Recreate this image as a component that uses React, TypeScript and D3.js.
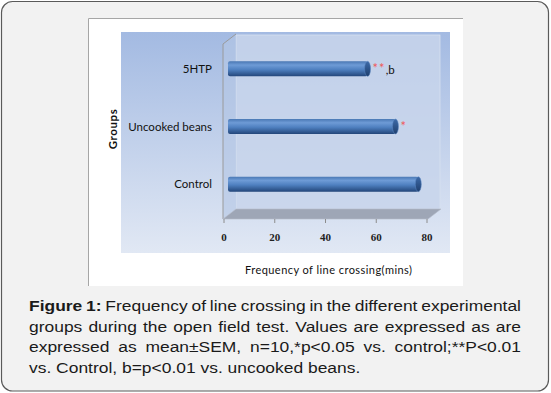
import React, { useEffect, useRef } from "react";
import * as d3 from "d3";

const groups = ["5HTP", "Uncooked beans", "Control"];
const crossings = [55, 66, 75];
const starMarks = ["**", "*", ""];
const letterMarks = [",b", "", ""];
const xTicks = [0, 20, 40, 60, 80];

const captionLines = [
  "groups during the open field test. Values are expressed as are",
  "expressed as mean±SEM, n=10,*p<0.05 vs. control;**P<0.01",
  "vs. Control, b=p<0.01 vs. uncooked beans.",
];

const App = () => {
  const svgRef = useRef<SVGSVGElement>(null);

  useEffect(() => {
    const svg = d3.select(svgRef.current);
    svg.selectAll("*").remove();

    // 3D box geometry
    const depth = { dx: 13, dy: -10 };
    const front = { left: 223, right: 428, top: 44, bottom: 219 };
    const barShift = { dx: 4, dy: -3 };

    const x = d3.scaleLinear().domain([0, 80]).range([224, 427]);
    const y = d3
      .scaleBand()
      .domain(groups)
      .range([43, 216])
      .paddingInner(0.74)
      .paddingOuter(0.37);

    const defs = svg.append("defs");
    const bg = defs
      .append("linearGradient")
      .attr("id", "plotBg")
      .attr("x1", 0)
      .attr("y1", 0)
      .attr("x2", 0)
      .attr("y2", 1);
    bg.append("stop").attr("offset", "0%").attr("stop-color", "#a3bae2");
    bg.append("stop").attr("offset", "100%").attr("stop-color", "#e1e8f4");

    const barGrad = defs
      .append("linearGradient")
      .attr("id", "barGrad")
      .attr("x1", 0)
      .attr("y1", 0)
      .attr("x2", 0)
      .attr("y2", 1);
    barGrad.append("stop").attr("offset", "0%").attr("stop-color", "#4a78b4");
    barGrad.append("stop").attr("offset", "25%").attr("stop-color", "#6e9bd6");
    barGrad.append("stop").attr("offset", "55%").attr("stop-color", "#4f80c0");
    barGrad.append("stop").attr("offset", "100%").attr("stop-color", "#23467a");

    const capGrad = defs
      .append("linearGradient")
      .attr("id", "capGrad")
      .attr("x1", 0)
      .attr("y1", 0)
      .attr("x2", 0)
      .attr("y2", 1);
    capGrad.append("stop").attr("offset", "0%").attr("stop-color", "#3d6aa8");
    capGrad.append("stop").attr("offset", "100%").attr("stop-color", "#1f3f6e");

    // outer card
    svg
      .append("rect")
      .attr("x", 1.5)
      .attr("y", 1.5)
      .attr("width", 547)
      .attr("height", 389.5)
      .attr("rx", 11)
      .attr("fill", "#f2f2f2")
      .attr("stroke", "#5a5a5a")
      .attr("stroke-width", 1.2);

    // white chart panel
    svg
      .append("rect")
      .attr("x", 88)
      .attr("y", 18)
      .attr("width", 375)
      .attr("height", 268)
      .attr("fill", "#fff");
    svg
      .append("path")
      .attr("d", "M88.5,286 V18.5 H463")
      .attr("fill", "none")
      .attr("stroke", "#a6a6a6");

    // plot area
    svg
      .append("rect")
      .attr("x", 121)
      .attr("y", 32)
      .attr("width", 329)
      .attr("height", 221)
      .attr("fill", "url(#plotBg)");

    // back wall
    svg
      .append("rect")
      .attr("x", front.left + depth.dx)
      .attr("y", front.top + depth.dy + 1)
      .attr("width", front.right - front.left - 1)
      .attr("height", front.bottom - front.top)
      .attr("fill", "#c8d5eb")
      .attr("fill-opacity", 0.85)
      .attr("stroke", "#d8e1f0")
      .attr("stroke-width", 0.8);

    // left wall
    const bx = front.left + depth.dx;
    svg
      .append("path")
      .attr(
        "d",
        `M${front.left},${front.top} L${bx},${front.top + depth.dy} L${bx},${front.bottom + depth.dy} L${front.left},${front.bottom} Z`
      )
      .attr("fill", "#b4c6e5")
      .attr("fill-opacity", 0.6)
      .attr("stroke", "none");
    svg
      .append("path")
      .attr(
        "d",
        `M${bx},${front.top + depth.dy} L${front.left},${front.top} L${front.left},${front.bottom}`
      )
      .attr("fill", "none")
      .attr("stroke", "#9a9a9a")
      .attr("stroke-width", 1);

    // floor
    svg
      .append("path")
      .attr(
        "d",
        `M${front.left},${front.bottom} L${front.right},${front.bottom} L${front.right + depth.dx},${front.bottom + depth.dy} L${bx},${front.bottom + depth.dy} Z`
      )
      .attr("fill", "#9ea6b6")
      .attr("stroke", "#b5bccb")
      .attr("stroke-width", 0.6);

    // tick marks and labels
    const axis = svg.append("g");
    axis
      .selectAll("line")
      .data(xTicks)
      .enter()
      .append("line")
      .attr("x1", (d) => x(d))
      .attr("x2", (d) => x(d))
      .attr("y1", front.bottom)
      .attr("y2", front.bottom + 4)
      .attr("stroke", "#8c8c8c");
    axis
      .selectAll("text")
      .data(xTicks)
      .enter()
      .append("text")
      .attr("x", (d) => x(d))
      .attr("y", 241)
      .attr("text-anchor", "middle")
      .attr("font-family", "Liberation Serif")
      .attr("font-weight", "bold")
      .attr("font-size", 11)
      .attr("fill", "#222")
      .text((d) => d);

    // category labels
    svg
      .append("g")
      .selectAll("text")
      .data(groups)
      .enter()
      .append("text")
      .attr("x", 212)
      .attr("y", (d) => y(d)! + y.bandwidth() / 2 + barShift.dy + 4)
      .attr("text-anchor", "end")
      .attr("font-family", "Lato")
      .attr("font-size", 11.5)
      .attr("fill", "#111")
      .text((d) => d);

    // bars (cylinders)
    const bh = 15;
    const bars = svg
      .append("g")
      .selectAll("g")
      .data(groups)
      .enter()
      .append("g");
    const cy = (g: string) => y(g)! + y.bandwidth() / 2 + barShift.dy;
    bars
      .append("rect")
      .attr("x", x(0) + barShift.dx)
      .attr("y", (d) => cy(d) - bh / 2)
      .attr("width", (d, i) => x(crossings[i]) - x(0))
      .attr("height", bh)
      .attr("rx", 2)
      .attr("fill", "url(#barGrad)");
    bars
      .append("ellipse")
      .attr("cx", (d, i) => x(crossings[i]) + barShift.dx)
      .attr("cy", (d) => cy(d))
      .attr("rx", 3)
      .attr("ry", bh / 2)
      .attr("fill", "url(#capGrad)")
      .attr("stroke", "#5d88c4")
      .attr("stroke-width", 0.5);

    // significance marks
    const marks = bars
      .append("text")
      .attr("x", (d, i) => x(crossings[i]) + barShift.dx + 5)
      .attr("y", (d) => cy(d) + 4)
      .attr("font-family", "Lato");
    marks
      .append("tspan")
      .attr("fill", "#f05a5a")
      .attr("font-size", 13)
      .attr("letter-spacing", 1)
      .text((d, i) => starMarks[i]);
    marks
      .append("tspan")
      .attr("fill", "#111")
      .attr("font-size", 11.5)
      .attr("dy", 1)
      .text((d, i) => letterMarks[i]);

    // axis titles
    svg
      .append("text")
      .attr("transform", "translate(117,129) rotate(-90)")
      .attr("text-anchor", "middle")
      .attr("font-family", "Lato")
      .attr("font-weight", "bold")
      .attr("font-size", 11.5)
      .attr("letter-spacing", 0.6)
      .attr("fill", "#111")
      .text("Groups");
    svg
      .append("text")
      .attr("x", 245)
      .attr("y", 274)
      .attr("textLength", 167)
      .attr("lengthAdjust", "spacing")
      .attr("font-family", "Lato")
      .attr("font-size", 11)
      .attr("fill", "#111")
      .text("Frequency of line crossing(mins)");

    // caption: slightly wide Arial-like text, justified with word spacing
    const sx = 1.14;
    const target = 492 / sx;
    const cap = svg
      .append("g")
      .attr("transform", `translate(29,0) scale(${sx},1)`)
      .attr("font-family", "Liberation Sans")
      .attr("font-size", 15.3)
      .attr("fill", "#1a1a1a");
    const first = cap.append("text").attr("x", 0).attr("y", 311.5);
    first.append("tspan").attr("font-weight", "bold").text("Figure 1:");
    first
      .append("tspan")
      .text(" Frequency of line crossing in the different experimental");
    const rest = cap
      .selectAll("text.line")
      .data(captionLines)
      .enter()
      .append("text")
      .attr("class", "line")
      .attr("x", 0)
      .attr("y", (d, i) => 332 + i * 20.5)
      .text((d) => d);
    const justify = (el: SVGTextElement) => {
      const natural = el.getComputedTextLength();
      const spaces = (el.textContent || "").split(" ").length - 1;
      if (spaces > 0) {
        d3.select(el).attr("word-spacing", (target - natural) / spaces);
      }
    };
    justify(first.node() as SVGTextElement);
    rest.each(function (d, i) {
      if (i < 2) justify(this as SVGTextElement);
    });
  }, []);

  return (
    <div style={{ position: "absolute", left: 0, top: 0 }}>
      <svg ref={svgRef} width={551} height={393}></svg>
    </div>
  );
};

export default App;
